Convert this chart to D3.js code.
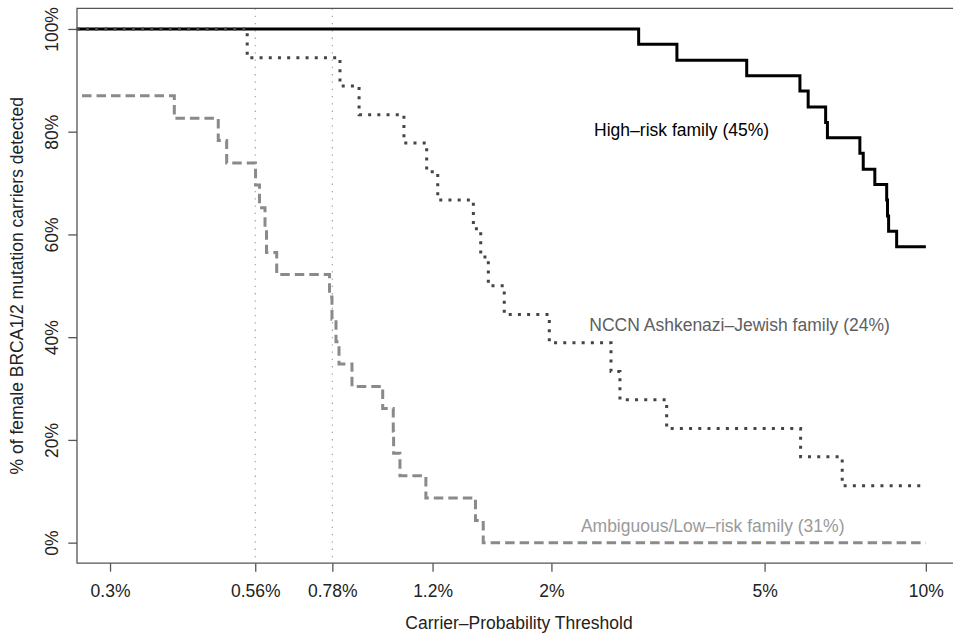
<!DOCTYPE html>
<html>
<head>
<meta charset="utf-8">
<script src="https://cdn.jsdelivr.net/npm/d3@7"></script>
<style>
  html, body { margin: 0; padding: 0; background: #fff; }
  svg { display: block; font-family: "Liberation Sans", Arial, Helvetica, sans-serif; }
</style>
</head>
<body>
<svg id="chart" width="953" height="637"></svg>
<script>
// ---- data (carrier-probability threshold in %, % carriers detected) ----
const highRiskThreshold = [0.26, 2.91, 3.43, 4.63, 5.82, 6.03, 6.50, 6.55, 7.53, 7.64, 8.03, 8.45, 8.48, 8.52, 8.82, 10];
const highRiskDetected  = [100, 97.0, 93.9, 90.9, 87.9, 84.8, 81.8, 78.8, 75.8, 72.7, 69.7, 66.7, 63.6, 60.6, 57.6, 57.6];

const nccnThreshold = [0.26, 0.541, 0.806, 0.875, 1.061, 1.170, 1.227, 1.430, 1.476, 1.525, 1.633, 1.982, 2.584, 2.685, 3.282, 5.837, 6.98, 10];
const nccnDetected  = [100, 94.4, 88.9, 83.3, 77.8, 72.2, 66.7, 61.1, 55.6, 50.0, 44.4, 38.9, 33.3, 27.8, 22.2, 16.7, 11.1, 11.1];

const ambigThreshold = [0.266, 0.3955, 0.4777, 0.4953, 0.5607, 0.5703, 0.5840, 0.5878, 0.6141, 0.7706, 0.7788, 0.7924, 0.8027, 0.8487, 0.9685, 1.0135, 1.015, 1.043, 1.166, 1.443, 1.492, 10];
const ambigDetected  = [87.0, 82.6, 78.3, 73.9, 69.6, 65.2, 60.9, 56.5, 52.2, 47.8, 43.5, 39.1, 34.8, 30.4, 26.1, 21.7, 17.4, 13.0, 8.7, 4.3, 0, 0];

const seriesLabels = ["High\u2013risk family (45%)", "NCCN Ashkenazi\u2013Jewish family (24%)", "Ambiguous/Low\u2013risk family (31%)"];

const xTickValues = [0.3, 0.56, 0.78, 1.2, 2, 5, 10];
const xTickLabels = ["0.3%", "0.56%", "0.78%", "1.2%", "2%", "5%", "10%"];
const yTickValues = [0, 20, 40, 60, 80, 100];
const yTickLabels = ["0%", "20%", "40%", "60%", "80%", "100%"];
const referenceThresholds = [0.56, 0.78];

const xTitle = "Carrier\u2013Probability Threshold";
const yTitle = "% of female BRCA1/2 mutation carriers detected";

// ---- layout ----
const svg = d3.select("#chart");
const xLim = [0.2603, 11.63];
const yLim = [-4, 104];
const x = d3.scaleLog().domain(xLim).range([77, 961]);
const y = d3.scaleLinear().domain(yLim).range([563.2, 8.4]);
const fontSize = 17.5;
const axisColor = "#555";

// reference lines
svg.selectAll("line.ref").data(referenceThresholds).join("line")
  .attr("class", "ref")
  .attr("x1", d => x(d)).attr("x2", d => x(d))
  .attr("y1", y(yLim[1])).attr("y2", y(yLim[0]))
  .attr("stroke", "#9a9a9a").attr("stroke-width", 1.1)
  .attr("stroke-dasharray", "1.3,6");

// series
const line = d3.line().x(d => x(d[0])).y(d => y(d[1])).curve(d3.curveStepAfter);
const series = [
  { t: highRiskThreshold, v: highRiskDetected, color: "#000", width: 3, dash: null },
  { t: nccnThreshold, v: nccnDetected, color: "#444", width: 3, dash: "3,6.2" },
  { t: ambigThreshold, v: ambigDetected, color: "#8a8a8a", width: 3, dash: "9.5,5" }
];
series.forEach(s => {
  svg.append("path")
    .datum(d3.zip(s.t, s.v))
    .attr("d", line)
    .attr("fill", "none")
    .attr("stroke", s.color)
    .attr("stroke-width", s.width)
    .attr("stroke-dasharray", s.dash)
    .attr("stroke-linecap", "butt");
});

// frame (left, top, bottom; right side lies off-canvas)
const frame = svg.append("g").attr("stroke", axisColor).attr("stroke-width", 1.3).attr("fill", "none");
frame.append("path").attr("d", `M${x(xLim[1])},${y(yLim[1])}H${x(xLim[0])}V${y(yLim[0])}H${x(xLim[1])}`);

// x axis
const xAxis = svg.append("g")
  .attr("transform", `translate(0,${y(yLim[0])})`)
  .call(d3.axisBottom(x).tickValues(xTickValues).tickFormat((d, i) => xTickLabels[i]).tickSize(8.5));
xAxis.select(".domain").remove();
xAxis.selectAll("line").attr("stroke", axisColor).attr("stroke-width", 1.3);
xAxis.selectAll("text").attr("y", 33.5).attr("dy", 0)
  .attr("font-size", fontSize).attr("font-family", "Liberation Sans, Arial, sans-serif").attr("fill", "#222");

// y axis
const yAxis = svg.append("g")
  .attr("transform", `translate(${x(xLim[0])},0)`)
  .call(d3.axisLeft(y).tickValues(yTickValues).tickFormat((d, i) => yTickLabels[i]).tickSize(8.7));
yAxis.select(".domain").remove();
yAxis.selectAll("line").attr("stroke", axisColor).attr("stroke-width", 1.3);
yAxis.selectAll("text")
  .attr("transform", "rotate(-90)")
  .attr("x", 0).attr("y", -19).attr("dy", 0)
  .attr("text-anchor", "middle")
  .attr("font-size", fontSize).attr("font-family", "Liberation Sans, Arial, sans-serif").attr("fill", "#222");

// axis titles
svg.append("text")
  .attr("x", (x(xLim[0]) + x(xLim[1])) / 2).attr("y", 629)
  .attr("text-anchor", "middle").attr("font-size", fontSize).attr("fill", "#222")
  .text(xTitle);
svg.append("text")
  .attr("transform", `translate(22.5,${(y(yLim[0]) + y(yLim[1])) / 2}) rotate(-90)`)
  .attr("text-anchor", "middle").attr("font-size", fontSize).attr("fill", "#222")
  .text(yTitle);

// series annotations
const annotations = [
  { label: seriesLabels[0], at: [3.50, 80.4], color: "#000" },
  { label: seriesLabels[1], at: [4.49, 42.4], color: "#5e5e5e" },
  { label: seriesLabels[2], at: [4.00, 3.25], color: "#9a9a9a" }
];
svg.selectAll("text.anno").data(annotations).join("text")
  .attr("class", "anno")
  .attr("x", d => x(d.at[0])).attr("y", d => y(d.at[1]))
  .attr("dy", "0.36em")
  .attr("text-anchor", "middle").attr("font-size", fontSize)
  .attr("fill", d => d.color)
  .text(d => d.label);
</script>
</body>
</html>
